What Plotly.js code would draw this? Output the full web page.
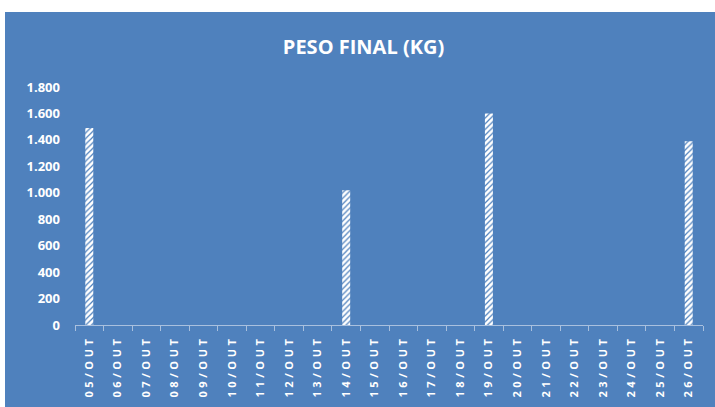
<!DOCTYPE html>
<html>
<head>
<meta charset="utf-8">
<script src="https://cdn.plot.ly/plotly-3.0.1.min.js"></script>
<style>
  html, body { margin: 0; padding: 0; background: #ffffff; width: 715px; height: 407px; overflow: hidden; }
  #chart { position: absolute; left: 5px; top: 12px; width: 710px; height: 395px; }
  #chart .xtick text { letter-spacing: 3.6px; }
</style>
</head>
<body>
<div id="chart"></div>
<script>
const categories = ["05/OUT","06/OUT","07/OUT","08/OUT","09/OUT","10/OUT","11/OUT","12/OUT","13/OUT","14/OUT","15/OUT","16/OUT","17/OUT","18/OUT","19/OUT","20/OUT","21/OUT","22/OUT","23/OUT","24/OUT","25/OUT","26/OUT"];
const pesoFinal = [1490,null,null,null,null,null,null,null,null,1020,null,null,null,null,1600,null,null,null,null,null,null,1390];
const yTicks = [0,200,400,600,800,1000,1200,1400,1600,1800];
const chartTitle = "PESO FINAL (KG)";

const blue = "#4F81BD";
const lineCol = "#A9C0DE";

Plotly.newPlot("chart", [{
  type: "bar",
  x: categories,
  y: pesoFinal,
  width: 0.28,
  marker: {
    color: "#ffffff",
    line: { width: 0 },
    pattern: { shape: "/", fgcolor: blue, bgcolor: "#ffffff", size: 4, solidity: 0.3 }
  },
  hoverinfo: "x+y"
}], {
  width: 710,
  height: 395,
  paper_bgcolor: blue,
  plot_bgcolor: blue,
  margin: { l: 70, r: 12, t: 75, b: 82 },
  separators: ",.",
  showlegend: false,
  title: {
    text: "<b>" + chartTitle + "</b>",
    font: { family: "Open Sans", size: 20, color: "#ffffff" },
    x: 0.505, xanchor: "center",
    y: 1 - 35/395, yanchor: "middle"
  },
  xaxis: {
    type: "category",
    tickangle: -90,
    tickfont: { family: "Open Sans", size: 11, color: "#ffffff", weight: "bold" },
    showline: true, linecolor: lineCol, linewidth: 1,
    ticks: "outside", tickson: "boundaries", ticklen: 5, tickcolor: lineCol,
    showgrid: false, zeroline: false,
    ticklabelstandoff: 5,
    range: [-0.5, categories.length - 0.5]
  },
  yaxis: {
    range: [0, 1800],
    tickvals: yTicks,
    tickformat: ",d",
    tickfont: { family: "Open Sans", size: 13, color: "#ffffff", weight: "bold" },
    showgrid: false, zeroline: false, showline: false,
    ticks: "", ticklabelstandoff: 14
  }
}, { displayModeBar: false, staticPlot: true });
</script>
</body>
</html>
